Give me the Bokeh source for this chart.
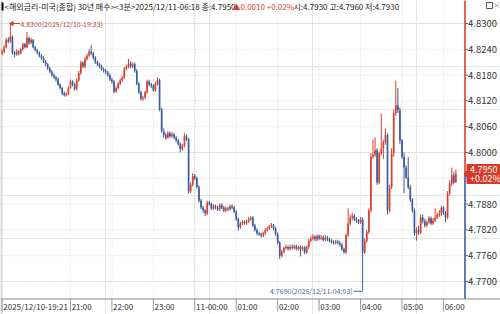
import math
from bokeh.plotting import figure
from bokeh.models import Range1d
from bokeh.core.properties import value
from bokeh.embed import file_html
from bokeh.resources import INLINE

# ---------------- data (3-minute candles, 2025/12/10 19:21 .. 2025/12/11 06:18) ----------------
first_open = 4.8230
closes = [
    4.8235, 4.8245, 4.8262, 4.8258, 4.8270, 4.8232, 4.8228, 4.8235, 4.8230, 4.8240,
    4.8252, 4.8245, 4.8266, 4.8255, 4.8262, 4.8245, 4.8238, 4.8232, 4.8225, 4.8220,
    4.8212, 4.8205, 4.8196, 4.8188, 4.8180, 4.8175, 4.8170, 4.8158, 4.8150, 4.8138,
    4.8133, 4.8136, 4.8150, 4.8165, 4.8158, 4.8148, 4.8168, 4.8185, 4.8209, 4.8200,
    4.8218, 4.8225, 4.8235, 4.8230, 4.8220, 4.8210, 4.8205, 4.8200, 4.8194, 4.8190,
    4.8186, 4.8180, 4.8170, 4.8165, 4.8142, 4.8150, 4.8160, 4.8168, 4.8175, 4.8195,
    4.8200, 4.8207, 4.8200, 4.8205, 4.8190, 4.8160, 4.8140, 4.8125, 4.8128, 4.8140,
    4.8165, 4.8158, 4.8155, 4.8145, 4.8160, 4.8168, 4.8100, 4.8050, 4.8040, 4.8035,
    4.8045, 4.8038, 4.8042, 4.8035, 4.8028, 4.8020, 4.8008, 4.8015, 4.8038, 4.8030,
    4.7910, 4.7925, 4.7945, 4.7940, 4.7920, 4.7888, 4.7872, 4.7865, 4.7858, 4.7884,
    4.7880, 4.7870, 4.7875, 4.7872, 4.7868, 4.7878, 4.7872, 4.7865, 4.7870, 4.7868,
    4.7875, 4.7872, 4.7862, 4.7845, 4.7826, 4.7835, 4.7838, 4.7836, 4.7840, 4.7845,
    4.7848, 4.7830, 4.7820, 4.7812, 4.7810, 4.7807, 4.7812, 4.7820, 4.7824, 4.7828,
    4.7830, 4.7823, 4.7810, 4.7790, 4.7760, 4.7770, 4.7778, 4.7780, 4.7776, 4.7780,
    4.7778, 4.7782, 4.7776, 4.7780, 4.7775, 4.7779, 4.7768, 4.7780, 4.7795, 4.7800,
    4.7804, 4.7798, 4.7805, 4.7800, 4.7803, 4.7797, 4.7802, 4.7798, 4.7795, 4.7792,
    4.7790, 4.7793, 4.7790, 4.7785, 4.7775, 4.7768, 4.7808, 4.7835, 4.7848, 4.7853,
    4.7845, 4.7842, 4.7838, 4.7845, 4.7768, 4.7795, 4.7815, 4.7865, 4.7990, 4.7995,
    4.8005, 4.7930, 4.7998, 4.8010, 4.8023, 4.8040, 4.7865, 4.7920, 4.7998, 4.8091,
    4.8110, 4.8098, 4.8028, 4.7990, 4.7965, 4.7942, 4.7919, 4.7890, 4.7865, 4.7812,
    4.7820, 4.7814, 4.7849, 4.7840, 4.7830, 4.7838, 4.7847, 4.7835, 4.7842, 4.7849,
    4.7855, 4.7858, 4.7872, 4.7860, 4.7849, 4.7905, 4.7928, 4.7947, 4.7930, 4.7950,
]
highs = [
    4.8240, 4.8250, 4.8266, 4.8268, 4.8300, 4.8272, 4.8236, 4.8240, 4.8238, 4.8244,
    4.8256, 4.8255, 4.8280, 4.8270, 4.8266, 4.8264, 4.8248, 4.8241, 4.8235, 4.8228,
    4.8224, 4.8215, 4.8208, 4.8199, 4.8192, 4.8184, 4.8178, 4.8174, 4.8161, 4.8153,
    4.8142, 4.8140, 4.8154, 4.8170, 4.8168, 4.8162, 4.8172, 4.8190, 4.8214, 4.8212,
    4.8222, 4.8230, 4.8240, 4.8250, 4.8234, 4.8224, 4.8214, 4.8209, 4.8204, 4.8198,
    4.8194, 4.8190, 4.8184, 4.8174, 4.8168, 4.8154, 4.8164, 4.8172, 4.8179, 4.8199,
    4.8204, 4.8218, 4.8212, 4.8210, 4.8209, 4.8194, 4.8164, 4.8144, 4.8132, 4.8144,
    4.8170, 4.8169, 4.8162, 4.8159, 4.8164, 4.8175, 4.8172, 4.8104, 4.8056, 4.8046,
    4.8050, 4.8049, 4.8048, 4.8046, 4.8039, 4.8032, 4.8024, 4.8020, 4.8045, 4.8042,
    4.8034, 4.7930, 4.7952, 4.7950, 4.7944, 4.7924, 4.7892, 4.7876, 4.7869, 4.7888,
    4.7888, 4.7884, 4.7880, 4.7879, 4.7876, 4.7882, 4.7882, 4.7876, 4.7874, 4.7874,
    4.7879, 4.7879, 4.7876, 4.7866, 4.7849, 4.7839, 4.7842, 4.7842, 4.7844, 4.7850,
    4.7852, 4.7852, 4.7834, 4.7824, 4.7816, 4.7814, 4.7816, 4.7824, 4.7828, 4.7832,
    4.7836, 4.7834, 4.7827, 4.7814, 4.7794, 4.7774, 4.7782, 4.7786, 4.7784, 4.7786,
    4.7786, 4.7786, 4.7786, 4.7784, 4.7784, 4.7783, 4.7783, 4.7784, 4.7799, 4.7806,
    4.7810, 4.7808, 4.7810, 4.7809, 4.7808, 4.7807, 4.7808, 4.7806, 4.7802, 4.7799,
    4.7796, 4.7797, 4.7797, 4.7794, 4.7789, 4.7779, 4.7812, 4.7870, 4.7856, 4.7860,
    4.7857, 4.7850, 4.7846, 4.7850, 4.7849, 4.7800, 4.7820, 4.7870, 4.7998, 4.8030,
    4.8035, 4.8010, 4.8002, 4.8090, 4.8030, 4.8056, 4.8045, 4.7925, 4.8010, 4.8100,
    4.8167, 4.8150, 4.8105, 4.8032, 4.8000, 4.7970, 4.7990, 4.7925, 4.7894, 4.7870,
    4.7826, 4.7830, 4.7855, 4.7856, 4.7846, 4.7842, 4.7852, 4.7851, 4.7848, 4.7870,
    4.7860, 4.7866, 4.7876, 4.7876, 4.7864, 4.7910, 4.7935, 4.7965, 4.7955, 4.7960,
]
lows = [
    4.8226, 4.8230, 4.8242, 4.8254, 4.8255, 4.8228, 4.8222, 4.8225, 4.8226, 4.8228,
    4.8236, 4.8242, 4.8243, 4.8250, 4.8252, 4.8242, 4.8235, 4.8228, 4.8221, 4.8216,
    4.8208, 4.8201, 4.8192, 4.8184, 4.8176, 4.8171, 4.8165, 4.8155, 4.8146, 4.8133,
    4.8130, 4.8130, 4.8133, 4.8147, 4.8154, 4.8144, 4.8145, 4.8164, 4.8180, 4.8196,
    4.8196, 4.8214, 4.8221, 4.8226, 4.8216, 4.8206, 4.8201, 4.8196, 4.8190, 4.8186,
    4.8182, 4.8176, 4.8166, 4.8160, 4.8138, 4.8139, 4.8146, 4.8156, 4.8164, 4.8171,
    4.8191, 4.8196, 4.8196, 4.8196, 4.8186, 4.8156, 4.8136, 4.8121, 4.8120, 4.8124,
    4.8136, 4.8154, 4.8150, 4.8141, 4.8141, 4.8156, 4.8096, 4.8046, 4.8034, 4.8030,
    4.8031, 4.8034, 4.8034, 4.8031, 4.8024, 4.8016, 4.8000, 4.8004, 4.8012, 4.8026,
    4.7905, 4.7906, 4.7921, 4.7936, 4.7916, 4.7884, 4.7868, 4.7860, 4.7852, 4.7854,
    4.7876, 4.7866, 4.7866, 4.7868, 4.7864, 4.7864, 4.7868, 4.7861, 4.7861, 4.7864,
    4.7864, 4.7868, 4.7858, 4.7841, 4.7818, 4.7822, 4.7831, 4.7832, 4.7832, 4.7836,
    4.7841, 4.7826, 4.7816, 4.7808, 4.7806, 4.7802, 4.7803, 4.7808, 4.7816, 4.7820,
    4.7824, 4.7819, 4.7806, 4.7786, 4.7752, 4.7756, 4.7766, 4.7774, 4.7772, 4.7772,
    4.7774, 4.7774, 4.7772, 4.7772, 4.7758, 4.7771, 4.7764, 4.7764, 4.7776, 4.7791,
    4.7796, 4.7794, 4.7794, 4.7796, 4.7796, 4.7793, 4.7793, 4.7794, 4.7791, 4.7788,
    4.7786, 4.7786, 4.7786, 4.7781, 4.7771, 4.7764, 4.7764, 4.7804, 4.7830, 4.7842,
    4.7840, 4.7836, 4.7833, 4.7834, 4.7690, 4.7764, 4.7790, 4.7810, 4.7860, 4.7985,
    4.7990, 4.7925, 4.7926, 4.7994, 4.7985, 4.8018, 4.7855, 4.7860, 4.7915, 4.7990,
    4.8085, 4.8092, 4.8020, 4.7985, 4.7905, 4.7938, 4.7915, 4.7885, 4.7860, 4.7806,
    4.7795, 4.7808, 4.7810, 4.7835, 4.7826, 4.7826, 4.7834, 4.7831, 4.7831, 4.7838,
    4.7845, 4.7850, 4.7852, 4.7855, 4.7838, 4.7845, 4.7900, 4.7922, 4.7926, 4.7930,
]
time_index = [0, 33, 53, 73, 93, 113, 133, 153, 173, 193, 213]
time_labels = ["2025/12/10-19:21", "21:00", "22:00", "23:00", "11-00:00", "01:00",
               "02:00", "03:00", "04:00", "05:00", "06:00"]
day_break_index = 93
y_ticks = [4.7700, 4.7760, 4.7820, 4.7880, 4.8000, 4.8060, 4.8120, 4.8180, 4.8240, 4.8300]
y_grid = [4.7700, 4.7760, 4.7820, 4.7880, 4.7940, 4.8000, 4.8060, 4.8120, 4.8180, 4.8240, 4.8300]
last_price = 4.7950
last_change_pct = "+0.02%"
high_index, high_value, high_text = 4, 4.8300, "4.8300(2025/12/10-19:33)"
low_index, low_value, low_text = 174, 4.7690, "4.7690(2025/12/11-04:03)"
title_main = "<해외금리-미국(종합) 30년 매수>"
title_time = "<3분>2025/12/11-06:18 종:4.7950"
title_change = "▲0.0010 +0.02%"
title_ohl = "시:4.7930 고:4.7960 저:4.7930"

# ---------------- layout (pixel -> data conversion) ----------------
W, H = 500, 314
PX = 2.072          # pixels per candle
X_PIX0 = 1.6        # pixel of first candle
PY = 4300.0         # pixels per price unit
Y_PIX_REF, Y_REF = 152.0, 4.8
AXIS_X = 464.5      # right axis line
AXIS_Y = 298.5      # bottom axis line

def dx(px):
    return (px - X_PIX0) / PX

def dy(py):
    return Y_REF - (py - Y_PIX_REF) / PY

FONT = value("Noto Sans CJK KR")
RED, BLUE = "#d6402c", "#3a5a9c"
GRID = "#d6d6d6"

opens = [first_open] + closes[:-1]
n = len(closes)
xs = list(range(n))
up = [c >= o for o, c in zip(opens, closes)]
col = [RED if u else BLUE for u in up]
top = [max(o, c) for o, c in zip(opens, closes)]
bot = [min(o, c) for o, c in zip(opens, closes)]
bot = [b if t - b > 0.00005 else b - 0.00005 for t, b in zip(top, bot)]

p = figure(width=W, height=H, x_range=Range1d(dx(0), dx(W)), y_range=Range1d(dy(H), dy(0)),
           x_axis_location=None, y_axis_location=None, min_border=0,
           toolbar_location=None, output_backend="svg", outline_line_color=None,
           background_fill_color="white", border_fill_color="white")

# grid
p.segment(x0=dx(0), x1=dx(AXIS_X), y0=y_grid, y1=y_grid, line_color=GRID, line_dash="1 2", line_width=1)
vg = [t for t in time_index[1:] if t != day_break_index]
p.segment(x0=vg, x1=vg, y0=dy(0), y1=dy(AXIS_Y), line_color=GRID, line_dash="1 2", line_width=1)
p.segment(x0=[day_break_index], x1=[day_break_index], y0=dy(0), y1=dy(AXIS_Y),
          line_color="#a0a0a0", line_dash="1 2", line_width=1)
p.segment(x0=[dx(0.5)], x1=[dx(0.5)], y0=dy(0), y1=dy(H), line_color="#bdbdbd", line_width=1)

# candles
p.segment(x0=xs, x1=xs, y0=lows, y1=highs, line_color=col, line_width=1)
p.vbar(x=xs, width=0.8, top=top, bottom=bot, fill_color=col, line_color=None)

# right axis
p.segment(x0=[dx(AXIS_X)], x1=[dx(AXIS_X)], y0=[dy(0)], y1=[last_price], line_color=RED, line_width=1.6)
p.segment(x0=[dx(AXIS_X)], x1=[dx(AXIS_X)], y0=[last_price], y1=[dy(AXIS_Y)], line_color=BLUE, line_width=1.6)
p.segment(x0=dx(AXIS_X), x1=dx(AXIS_X + 3), y0=y_ticks, y1=y_ticks, line_color="#666666", line_width=1)
p.text(x=dx(AXIS_X + 3), y=y_ticks, text=["%.4f" % v for v in y_ticks], text_font=FONT,
       text_font_size="9.5px", text_color="#333333", text_baseline="middle", text_align="left")

# bottom axis
p.segment(x0=[dx(0)], x1=[dx(W)], y0=[dy(AXIS_Y)], y1=[dy(AXIS_Y)], line_color="#8a8a8a", line_width=1)
p.segment(x0=time_index, x1=time_index, y0=dy(AXIS_Y), y1=dy(311), line_color="#9a9a9a", line_width=1)
p.text(x=[t + 1.2 / PX for t in time_index], y=dy(306), text=time_labels, text_font=FONT,
       text_font_size="8px", text_color="#333333", text_baseline="middle", text_align="left")

# current price tag
tag_x = [dx(AXIS_X - 1), dx(AXIS_X + 2), dx(AXIS_X + 2), dx(W), dx(W), dx(AXIS_X + 2), dx(AXIS_X + 2)]
tag_y = [last_price, last_price + 3 / PY, dy(164), dy(164), dy(183), dy(183), last_price - 3 / PY]
p.patch(x=tag_x, y=tag_y, fill_color="#d63a2a", line_color="#d63a2a")
p.text(x=dx(AXIS_X + 5), y=[dy(168.5), dy(178)], text=["%.4f" % last_price, last_change_pct],
       text_font=FONT, text_font_size="9px", text_color="white", text_baseline="middle", text_align="left")

# high annotation
p.segment(x0=[high_index + 0.3], x1=[high_index + 9.5 / PX], y0=[high_value], y1=[high_value],
          line_color="#c8432f", line_width=1)
p.scatter(x=[high_index + 1.6 / PX], y=[high_value], marker="triangle", angle=math.pi / 2, size=4,
          fill_color="#c8432f", line_color="#c8432f")
p.text(x=[high_index + 10 / PX], y=[high_value], text=[high_text], text_font=FONT, text_font_size="7px",
       text_color="#c8432f", text_baseline="middle", text_align="left")

# low annotation
ly = low_value - 5.5 / PY
p.segment(x0=[low_index - 9 / PX, low_index], x1=[low_index, low_index], y0=[ly, ly], y1=[ly, low_value],
          line_color="#4a66a6", line_width=1)
p.text(x=[low_index - 10 / PX], y=[ly], text=[low_text], text_font=FONT, text_font_size="7px",
       text_color="#4a66a6", text_baseline="middle", text_align="right")

# title line
p.quad(left=[dx(1)], right=[dx(3)], top=[dy(2)], bottom=[dy(10)], fill_color="black", line_color=None)
p.text(x=[dx(4), dx(114), dx(232), dx(293)], y=dy(6),
       text=[title_main, title_time, title_change, title_ohl], text_font=FONT, text_font_size="8px",
       text_color=["#222222", "#222222", "#d6402c", "#222222"], text_baseline="middle", text_align="left")
# window buttons
p.scatter(x=[dx(489)], y=[dy(5)], marker="square", size=6, fill_color="white", line_color="#555555")
p.scatter(x=[dx(496)], y=[dy(5)], marker="x", size=5, line_color="#888888")

open("out.html", "w").write(file_html(p, INLINE))
